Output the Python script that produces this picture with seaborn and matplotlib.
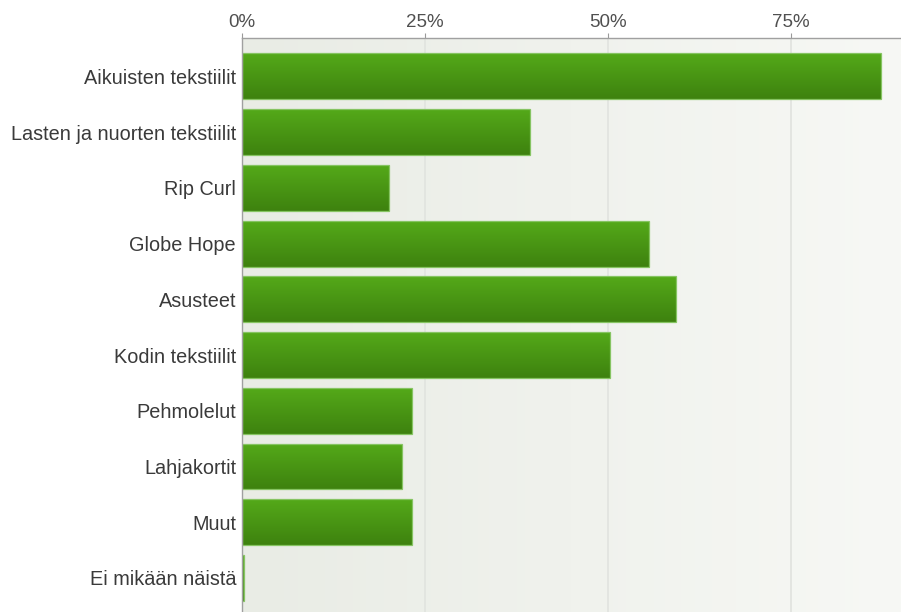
import numpy as np
import pandas as pd
import matplotlib
matplotlib.use("Agg")
import matplotlib.pyplot as plt
from matplotlib.colors import LinearSegmentedColormap
import seaborn as sns

# Survey answers: share of respondents (%) per product group
categories = [
    "Aikuisten tekstiilit",
    "Lasten ja nuorten tekstiilit",
    "Rip Curl",
    "Globe Hope",
    "Asusteet",
    "Kodin tekstiilit",
    "Pehmolelut",
    "Lahjakortit",
    "Muut",
    "Ei mikään näistä",
]
shares = [87.3, 39.3, 20.1, 55.6, 59.3, 50.3, 23.2, 21.8, 23.2, 0.2]
tick_values = [0, 25, 50, 75]
tick_labels = ["0%", "25%", "50%", "75%"]

df = pd.DataFrame({"category": categories, "share": shares})

sns.set_style("white")
plt.rcParams["font.family"] = ["Liberation Sans", "DejaVu Sans"]

W, H = 901, 612
fig = plt.figure(figsize=(W / 100, H / 100), dpi=100)
left_px, top_px = 242.3, 37.7
ax = fig.add_axes([left_px / W, 0, 1 - left_px / W, 1 - top_px / H])

sns.barplot(data=df, x="share", y="category", orient="h", width=0.825,
            color="#4a9615", edgecolor="#86c462", linewidth=0.9,
            saturation=1, ax=ax, zorder=3)

xmax = (W - left_px) / (182.8 / 25)

# soft horizontal gradient in the plotting area
bg = LinearSegmentedColormap.from_list("bg", ["#e9ece5", "#f7f8f5"])
ax.imshow(np.linspace(0, 1, 256).reshape(1, -1), cmap=bg, aspect="auto",
          extent=[0, 1, 0, 1], transform=ax.transAxes, zorder=0)

# vertical gradient on every bar, lighter on top
bar_cmap = LinearSegmentedColormap.from_list("bar", ["#54a919", "#3e820f"])
grad = np.linspace(0, 1, 64).reshape(-1, 1)
for p in ax.patches:
    x0, y0 = p.get_x(), p.get_y()
    w, h = p.get_width(), p.get_height()
    im = ax.imshow(grad, cmap=bar_cmap, aspect="auto",
                   extent=[x0, x0 + w, y0 + h, y0], zorder=2.5,
                   interpolation="bilinear")
    im.set_clip_path(p)
    p.set_facecolor("none")
    p.set_zorder(3)
ax.set_xlim(0, xmax)
ax.set_ylim(9.61, -0.692)

# grid lines at the tick positions
for v in tick_values[1:]:
    ax.axvline(v, color="#e2e4e0", linewidth=1.3, zorder=1)

ax.xaxis.tick_top()
ax.set_xticks(tick_values)
ax.set_xticklabels(tick_labels)
ax.tick_params(axis="x", top=True, length=3.5, width=0.8, color="#9a9a9a",
               pad=1.5, labelsize=13.5, labelcolor="#505050")
ax.tick_params(axis="y", left=False, length=0, pad=4.5, labelsize=14.3,
               labelcolor="#3a3a3a")
ax.set_xlabel("")
ax.set_ylabel("")

for side in ["right", "bottom"]:
    ax.spines[side].set_visible(False)
for side in ["top", "left"]:
    ax.spines[side].set_visible(True)
    ax.spines[side].set_color("#a0a0a0")
    ax.spines[side].set_linewidth(1.0)
    ax.spines[side].set_zorder(4)

fig.savefig("out.png", dpi=100)
